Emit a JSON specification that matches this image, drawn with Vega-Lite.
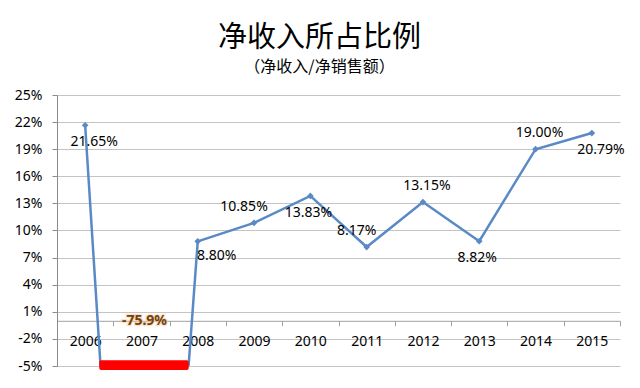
{
  "$schema": "https://vega.github.io/schema/vega-lite/v6.json",
  "width": 563,
  "height": 271,
  "autosize": {"type": "none"},
  "padding": {"left": 57, "top": 95, "right": 20, "bottom": 22},
  "background": "white",
  "config": {
    "view": {"stroke": null},
    "font": "Noto Sans",
    "locale": {"number": {"decimal": ".", "thousands": ",", "grouping": [3], "currency": ["$", ""], "minus": "-"}}
  },
  "title": {
    "text": "净收入所占比例",
    "subtitle": "（净收入/净销售额）",
    "font": "Noto Sans CJK SC",
    "subtitleFont": "Noto Sans CJK SC",
    "fontSize": 29,
    "subtitleFontSize": 16,
    "fontWeight": "normal",
    "subtitleFontWeight": "normal",
    "color": "#000000",
    "subtitleColor": "#000000",
    "anchor": "middle",
    "frame": "group",
    "dx": -19,
    "offset": 13,
    "subtitlePadding": 6.5
  },
  "datasets": {
    "ratio": [
      {"year": 2006, "v": 0.2165},
      {"year": 2007, "v": -0.759},
      {"year": 2008, "v": 0.088},
      {"year": 2009, "v": 0.1085},
      {"year": 2010, "v": 0.1383},
      {"year": 2011, "v": 0.0817},
      {"year": 2012, "v": 0.1315},
      {"year": 2013, "v": 0.0882},
      {"year": 2014, "v": 0.19},
      {"year": 2015, "v": 0.2079}
    ],
    "offscale": [
      {"from": 2006.25, "to": 2007.84, "lo": -0.0545, "hi": -0.0437}
    ]
  },
  "layer": [
    {
      "data": {"name": "ratio"},
      "layer": [
        {
          "mark": {"type": "line", "color": "#5a8ac6", "strokeWidth": 2.5, "clip": true},
          "encoding": {
            "x": {
              "field": "year", "type": "quantitative",
              "scale": {"domain": [2005.5, 2015.5], "nice": false, "zero": false},
              "axis": {
                "orient": "bottom",
                "values": [2006, 2007, 2008, 2009, 2010, 2011, 2012, 2013, 2014, 2015],
                "tickCount": 12,
                "format": "d",
                "title": null,
                "grid": false,
                "ticks": false,
                "domain": false,
                "offset": -45.2,
                "labelFontSize": 14,
                "labelColor": "#000000",
                "labelFont": "Noto Sans",
                "labelPadding": 14,
                "labelOverlap": false
              }
            },
            "y": {
              "field": "v", "type": "quantitative",
              "scale": {"domain": [-0.05, 0.25], "nice": false, "zero": false},
              "axis": {
                "values": [-0.05, -0.02, 0.01, 0.04, 0.07, 0.1, 0.13, 0.16, 0.19, 0.22, 0.25],
                "tickCount": 12,
                "format": ".0%",
                "title": null,
                "grid": true,
                "gridColor": "#c4c4c4",
                "domainColor": "#8c8c8c",
                "tickColor": "#8c8c8c",
                "tickSize": 5,
                "labelFontSize": 14,
                "labelColor": "#000000",
                "labelFont": "Noto Sans",
                "labelPadding": 10,
                "labelOverlap": false
              }
            }
          }
        },
        {
          "mark": {"type": "point", "shape": "diamond", "filled": true, "color": "#5a8ac6", "size": 45, "opacity": 1, "clip": true},
          "encoding": {
            "x": {"field": "year", "type": "quantitative"},
            "y": {"field": "v", "type": "quantitative"}
          }
        },
        {
          "transform": [{"filter": {"field": "year", "oneOf": [2006, 2015]}}],
          "mark": {"type": "text", "fontSize": 14, "color": "#000000", "dx": 9, "dy": 17, "baseline": "middle"},
          "encoding": {
            "x": {"field": "year", "type": "quantitative"},
            "y": {"field": "v", "type": "quantitative"},
            "text": {"field": "v", "type": "quantitative", "format": ".2%"}
          }
        },
        {
          "transform": [{"filter": {"field": "year", "oneOf": [2008]}}],
          "mark": {"type": "text", "fontSize": 14, "color": "#000000", "dx": 19, "dy": 15, "baseline": "middle"},
          "encoding": {
            "x": {"field": "year", "type": "quantitative"},
            "y": {"field": "v", "type": "quantitative"},
            "text": {"field": "v", "type": "quantitative", "format": ".2%"}
          }
        },
        {
          "transform": [{"filter": {"field": "year", "oneOf": [2010, 2013]}}],
          "mark": {"type": "text", "fontSize": 14, "color": "#000000", "dx": -2, "dy": 17, "baseline": "middle"},
          "encoding": {
            "x": {"field": "year", "type": "quantitative"},
            "y": {"field": "v", "type": "quantitative"},
            "text": {"field": "v", "type": "quantitative", "format": ".2%"}
          }
        },
        {
          "transform": [{"filter": {"field": "year", "oneOf": [2009, 2011]}}],
          "mark": {"type": "text", "fontSize": 14, "color": "#000000", "dx": -10, "dy": -16, "baseline": "middle"},
          "encoding": {
            "x": {"field": "year", "type": "quantitative"},
            "y": {"field": "v", "type": "quantitative"},
            "text": {"field": "v", "type": "quantitative", "format": ".2%"}
          }
        },
        {
          "transform": [{"filter": {"field": "year", "oneOf": [2012, 2014]}}],
          "mark": {"type": "text", "fontSize": 14, "color": "#000000", "dx": 4, "dy": -16, "baseline": "middle"},
          "encoding": {
            "x": {"field": "year", "type": "quantitative"},
            "y": {"field": "v", "type": "quantitative"},
            "text": {"field": "v", "type": "quantitative", "format": ".2%"}
          }
        },
        {
          "transform": [{"filter": {"field": "year", "oneOf": [2007]}}],
          "mark": {"type": "text", "fontSize": 14, "fontWeight": "bold", "color": "#f5c9a0", "stroke": "#f7cfa8", "strokeWidth": 2.5, "strokeOpacity": 0.6, "dx": 3, "baseline": "middle"},
          "encoding": {
            "x": {"field": "year", "type": "quantitative"},
            "y": {"datum": 0},
            "text": {"field": "v", "type": "quantitative", "format": ".1%"}
          }
        },
        {
          "transform": [{"filter": {"field": "year", "oneOf": [2007]}}],
          "mark": {"type": "text", "fontSize": 14, "fontWeight": "bold", "color": "#74420f", "dx": 3, "baseline": "middle"},
          "encoding": {
            "x": {"field": "year", "type": "quantitative"},
            "y": {"datum": 0},
            "text": {"field": "v", "type": "quantitative", "format": ".1%"}
          }
        }
      ]
    },
    {
      "data": {"name": "offscale"},
      "mark": {"type": "rect", "color": "#ff0000", "cornerRadius": 2},
      "encoding": {
        "x": {
          "field": "from", "type": "quantitative",
          "scale": {"domain": [2005.5, 2015.5], "nice": false, "zero": false},
          "axis": {
            "orient": "bottom",
            "values": [2005.5, 2006.5, 2007.5, 2008.5, 2009.5, 2010.5, 2011.5, 2012.5, 2013.5, 2014.5, 2015.5],
            "tickCount": 12,
            "labels": false,
            "title": null,
            "grid": false,
            "ticks": true,
            "tickSize": 5,
            "tickColor": "#a0a0a0",
            "domain": true,
            "domainColor": "#a0a0a0",
            "offset": -45.2
          }
        },
        "x2": {"field": "to"},
        "y": {
          "field": "lo", "type": "quantitative",
          "scale": {"domain": [-0.05, 0.25], "nice": false, "zero": false}
        },
        "y2": {"field": "hi"}
      }
    }
  ],
  "resolve": {"axis": {"x": "independent"}}
}
